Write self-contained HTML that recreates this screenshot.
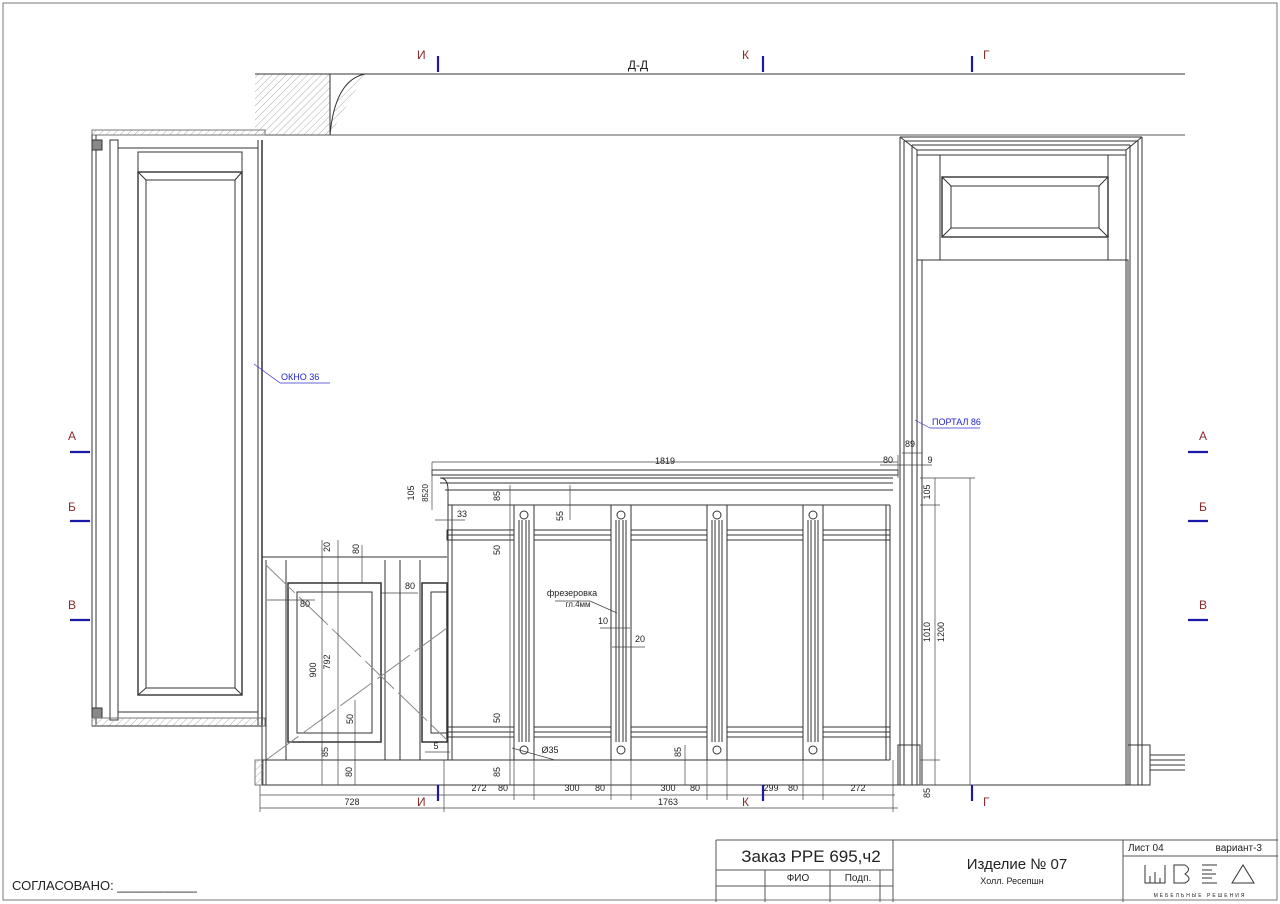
<!DOCTYPE html>
<html><head><meta charset="utf-8"><style>
html,body{margin:0;padding:0;background:#fff}
svg{display:block}
text{font-family:"Liberation Sans",sans-serif;fill:#222}
</style></head><body>
<svg width="1280" height="904" viewBox="0 0 1280 904" xmlns="http://www.w3.org/2000/svg">
<defs>
<pattern id="h" width="5" height="5" patternUnits="userSpaceOnUse" patternTransform="rotate(45)"><line x1="0" y1="0" x2="0" y2="5" stroke="#999" stroke-width="0.8"/></pattern>
</defs>
<rect x="3" y="3" width="1274" height="897" fill="none" stroke="#777" stroke-width="1"/>
<g stroke="#333" fill="none" stroke-width="1">
<!-- ceiling -->
<rect x="255" y="74" width="75" height="61" fill="url(#h)" stroke="none"/>
<path d="M330 74 L330 135 M330 135 Q335 80 365 74" fill="url(#h)"/>
<line x1="255" y1="74" x2="1185" y2="74"/>
<line x1="92" y1="135" x2="1185" y2="135" stroke="#555"/>
<rect x="92" y="130" width="173" height="5" fill="url(#h)" stroke="#777"/>
<!-- left window -->
<line x1="92" y1="135" x2="92" y2="725"/><line x1="96" y1="135" x2="96" y2="725"/>
<rect x="92" y="140" width="10" height="10" fill="#888"/>
<rect x="92" y="708" width="10" height="10" fill="#888"/>
<rect x="110" y="140" width="8" height="580"/>
<rect x="118" y="148" width="140" height="564"/>
<rect x="138" y="152" width="104" height="20"/>
<rect x="138" y="172" width="104" height="523" stroke-width="1.4"/>
<rect x="146" y="180" width="89" height="508"/>
<line x1="138" y1="172" x2="146" y2="180"/><line x1="242" y1="172" x2="235" y2="180"/>
<line x1="138" y1="695" x2="146" y2="688"/><line x1="242" y1="695" x2="235" y2="688"/>
<line x1="258" y1="140" x2="258" y2="725"/><line x1="262" y1="140" x2="262" y2="725" stroke-width="1.5"/>
<rect x="92" y="718" width="173" height="8" fill="url(#h)" stroke="#777"/>
<line x1="92" y1="726" x2="262" y2="726"/>
<!-- lower left cabinet -->
<line x1="262" y1="557" x2="447" y2="557"/>
<line x1="262" y1="557" x2="262" y2="785"/><line x1="266" y1="560" x2="266" y2="785"/>
<rect x="255" y="760" width="8" height="25" fill="url(#h)" stroke="#777"/>
<line x1="286" y1="560" x2="286" y2="760"/>
<line x1="385" y1="560" x2="385" y2="760"/>
<line x1="400" y1="560" x2="400" y2="760"/>
<line x1="420" y1="560" x2="420" y2="760"/>
<rect x="288" y="583" width="93" height="159" stroke-width="1.5"/>
<rect x="297" y="592" width="75" height="141"/>
<rect x="422" y="583" width="25" height="159" stroke-width="1.5"/>
<rect x="431" y="592" width="16" height="141"/>
<line x1="266" y1="565" x2="447" y2="740" stroke="#888" stroke-dasharray="40 6"/>
<line x1="266" y1="760" x2="447" y2="628" stroke="#888" stroke-dasharray="40 6"/>
<line x1="262" y1="760" x2="447" y2="760"/>
<!-- reception -->
<rect x="432" y="470" width="466" height="5"/>
<path d="M440 478 L893 478 M440 483 L893 483 M445 490 L893 490 M440 478 Q448 478 448 490 L448 505"/>
<line x1="448" y1="505" x2="890" y2="505"/>
<line x1="448" y1="505" x2="448" y2="760"/><line x1="452" y1="505" x2="452" y2="760"/>
<line x1="890" y1="505" x2="890" y2="760"/><line x1="886" y1="505" x2="886" y2="760"/>
<rect x="447" y="530" width="443" height="10"/><line x1="447" y1="535" x2="890" y2="535"/>
<rect x="447" y="727" width="443" height="10"/><line x1="447" y1="732" x2="890" y2="732"/>
<line x1="447" y1="760" x2="890" y2="760"/>
<line x1="262" y1="785" x2="898" y2="785"/>
<g fill="#fff">
<rect x="514" y="505" width="20" height="255"/>
<rect x="611" y="505" width="20" height="255"/>
<rect x="707" y="505" width="20" height="255"/>
<rect x="803" y="505" width="20" height="255"/>
</g>
<path d="M519 520 V742 M522 520 V742 M526 520 V742 M529 520 V742 M616 520 V742 M619 520 V742 M623 520 V742 M626 520 V742 M712 520 V742 M715 520 V742 M719 520 V742 M722 520 V742 M808 520 V742 M811 520 V742 M815 520 V742 M818 520 V742"/>
<circle cx="524" cy="515" r="4"/><circle cx="621" cy="515" r="4"/><circle cx="717" cy="515" r="4"/><circle cx="813" cy="515" r="4"/>
<circle cx="524" cy="750" r="4"/><circle cx="621" cy="750" r="4"/><circle cx="717" cy="750" r="4"/><circle cx="813" cy="750" r="4"/>
<!-- portal -->
<path d="M900 137 H1142 M900 137 V785 M904 141 V785 M912 145 V785 M917 150 V785 M1142 137 V785 M1138 141 V785 M1130 145 V785 M1126 150 V785"/>
<path d="M900 137 L917 150 M1142 137 L1126 150 M904 141 H1138 M912 145 H1130 M917 150 H1126"/>
<rect x="917" y="155" width="209" height="105"/>
<line x1="940" y1="155" x2="940" y2="260"/><line x1="1108" y1="155" x2="1108" y2="260"/>
<rect x="942" y="177" width="166" height="60" stroke-width="1.4"/>
<rect x="951" y="186" width="148" height="42"/>
<path d="M942 177 L951 186 M1108 177 L1099 186 M942 237 L951 228 M1108 237 L1099 228"/>
<rect x="922" y="260" width="206" height="525"/>
<rect x="898" y="745" width="22" height="40"/><rect x="1128" y="745" width="22" height="40"/>
<path d="M1150 755 H1185 M1150 760 H1185 M1150 765 H1185 M1150 770 H1185"/>
</g>
<!-- dimensions -->
<g stroke="#444" stroke-width="0.7" fill="none">
<line x1="432" y1="462" x2="898" y2="462"/>
<line x1="432" y1="462" x2="432" y2="510"/>
<line x1="898" y1="455" x2="898" y2="478"/>
<line x1="902" y1="453" x2="922" y2="453"/><line x1="880" y1="465" x2="932" y2="465"/>
<line x1="260" y1="795" x2="895" y2="795"/>
<line x1="260" y1="808" x2="898" y2="808"/>
<line x1="260" y1="785" x2="260" y2="812"/><line x1="444" y1="760" x2="444" y2="812"/><line x1="893" y1="760" x2="893" y2="812"/>
<path d="M514 760V800 M534 760V800 M611 760V800 M631 760V800 M707 760V800 M727 760V800 M803 760V800 M823 760V800"/>
<line x1="935" y1="478" x2="935" y2="785"/><line x1="970" y1="478" x2="970" y2="785"/>
<line x1="920" y1="478" x2="975" y2="478"/><line x1="920" y1="505" x2="940" y2="505"/>
<line x1="920" y1="760" x2="940" y2="760"/><line x1="920" y1="785" x2="975" y2="785"/>
<line x1="322" y1="540" x2="322" y2="785"/><line x1="338" y1="540" x2="338" y2="785"/>
<line x1="362" y1="545" x2="362" y2="583"/><line x1="355" y1="700" x2="355" y2="785"/>
<line x1="510" y1="485" x2="510" y2="785"/>
<line x1="570" y1="485" x2="570" y2="520"/>
<line x1="267" y1="600" x2="315" y2="600"/>
<line x1="381" y1="593" x2="418" y2="593"/>
<line x1="435" y1="520" x2="465" y2="520"/>
<line x1="425" y1="752" x2="450" y2="752"/>
<line x1="685" y1="745" x2="685" y2="785"/>
<line x1="590" y1="601" x2="617" y2="613"/><line x1="555" y1="601" x2="590" y2="601"/>
<line x1="600" y1="628" x2="630" y2="628"/><line x1="612" y1="647" x2="645" y2="647"/>
<line x1="512" y1="748" x2="555" y2="760"/>
<line x1="254" y1="364" x2="280" y2="383" stroke="#33c"/><line x1="280" y1="383" x2="330" y2="383" stroke="#33c"/>
<line x1="915" y1="420" x2="930" y2="428" stroke="#33c"/><line x1="930" y1="428" x2="980" y2="428" stroke="#33c"/>
</g>
<g font-size="9" text-anchor="middle">
<text x="665" y="464">1819</text><text x="888" y="463">80</text><text x="910" y="447">89</text><text x="930" y="463">9</text>
<text x="352" y="805">728</text><text x="668" y="805">1763</text>
<text x="479" y="791">272</text><text x="503" y="791">80</text><text x="572" y="791">300</text><text x="600" y="791">80</text>
<text x="668" y="791">300</text><text x="695" y="791">80</text><text x="771" y="791">299</text><text x="793" y="791">80</text><text x="858" y="791">272</text>
<text x="462" y="517">33</text><text x="305" y="607">80</text><text x="410" y="589">80</text><text x="436" y="749">5</text>
<text x="603" y="624">10</text><text x="640" y="642">20</text>
<text x="572" y="596">фрезеровка</text><text x="578" y="607" font-size="8">гл.4мм</text>
<text x="550" y="753">Ø35</text>
</g>
<g font-size="9" text-anchor="middle">
<text transform="translate(330,547) rotate(-90)">20</text><text transform="translate(359,549) rotate(-90)">80</text>
<text transform="translate(316,670) rotate(-90)">900</text><text transform="translate(330,662) rotate(-90)">792</text>
<text transform="translate(353,719) rotate(-90)">50</text><text transform="translate(328,752) rotate(-90)">85</text><text transform="translate(352,772) rotate(-90)">80</text>
<text transform="translate(414,493) rotate(-90)">105</text><text transform="translate(428,493) rotate(-90)" font-size="8">8520</text>
<text transform="translate(500,496) rotate(-90)">85</text><text transform="translate(563,516) rotate(-90)">55</text>
<text transform="translate(500,550) rotate(-90)">50</text><text transform="translate(500,718) rotate(-90)">50</text><text transform="translate(500,772) rotate(-90)">85</text>
<text transform="translate(681,752) rotate(-90)">85</text>
<text transform="translate(930,492) rotate(-90)">105</text><text transform="translate(930,632) rotate(-90)">1010</text><text transform="translate(944,632) rotate(-90)">1200</text>
<text transform="translate(930,793) rotate(-90)">85</text>
</g>
<g font-size="9" fill="#22c"><text x="281" y="380" style="fill:#22c">ОКНО 36</text><text x="932" y="425" style="fill:#22c">ПОРТАЛ 86</text></g>
<!-- section markers -->
<g stroke="#1a1aa8" stroke-width="2.2">
<line x1="438" y1="56" x2="438" y2="72"/><line x1="763" y1="56" x2="763" y2="72"/><line x1="972" y1="56" x2="972" y2="72"/>
<line x1="438" y1="785" x2="438" y2="801"/><line x1="763" y1="785" x2="763" y2="801"/><line x1="972" y1="785" x2="972" y2="801"/>
<line x1="70" y1="452" x2="90" y2="452"/><line x1="70" y1="521" x2="90" y2="521"/><line x1="70" y1="620" x2="90" y2="620"/>
<line x1="1188" y1="452" x2="1208" y2="452"/><line x1="1188" y1="521" x2="1208" y2="521"/><line x1="1188" y1="620" x2="1208" y2="620"/>
</g>
<g font-size="12" style="fill:#8a2a2a">
<text x="417" y="59" style="fill:#8a2a2a">И</text><text x="742" y="59" style="fill:#8a2a2a">К</text><text x="983" y="59" style="fill:#8a2a2a">Г</text>
<text x="417" y="806" style="fill:#8a2a2a">И</text><text x="742" y="806" style="fill:#8a2a2a">К</text><text x="983" y="806" style="fill:#8a2a2a">Г</text>
<text x="68" y="440" style="fill:#8a2a2a">А</text><text x="68" y="511" style="fill:#8a2a2a">Б</text><text x="68" y="609" style="fill:#8a2a2a">В</text>
<text x="1199" y="440" style="fill:#8a2a2a">А</text><text x="1199" y="511" style="fill:#8a2a2a">Б</text><text x="1199" y="609" style="fill:#8a2a2a">В</text>
</g>
<text x="638" y="69" font-size="12" text-anchor="middle">Д-Д</text>
<!-- title block -->
<g stroke="#555" stroke-width="1" fill="none">
<path d="M716 840 H1278 M716 840 V902 M716 870 H893 M716 886 H893 M765 870 V902 M830 870 V902 M880 870 V902 M893 840 V902 M1123 840 V902 M1123 856 H1278"/>
</g>
<text x="811" y="862" font-size="17" text-anchor="middle">Заказ РРЕ 695,ч2</text>
<text x="798" y="881" font-size="10" text-anchor="middle">ФИО</text>
<text x="858" y="881" font-size="10" text-anchor="middle">Подп.</text>
<text x="1017" y="869" font-size="15" text-anchor="middle">Изделие № 07</text>
<text x="1012" y="884" font-size="9" text-anchor="middle">Холл. Ресепшн</text>
<text x="1128" y="851" font-size="10">Лист 04</text>
<text x="1262" y="851" font-size="10" text-anchor="end">вариант-3</text>
<g stroke="#333" stroke-width="1" fill="none">
<path d="M1145 865 V883 H1165 V865 M1150 876 V883 M1155 872 V883 M1160 878 V883"/>
<path d="M1174 865 H1185 Q1192 869 1185 874 Q1193 879 1185 883 H1174 Z"/>
<path d="M1202 865 H1217 M1202 870 H1212 M1202 874 H1216 M1202 878 H1212 M1202 883 H1217"/>
<path d="M1232 883 L1243 865 L1254 883 Z"/>
</g>
<text x="1200" y="897" font-size="5" text-anchor="middle" letter-spacing="2">МЕБЕЛЬНЫЕ РЕШЕНИЯ</text>
<text x="12" y="890" font-size="13">СОГЛАСОВАНО: ___________</text>
</svg>
</body></html>
